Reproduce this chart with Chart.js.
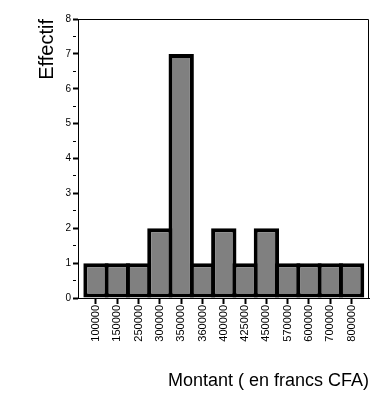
<!DOCTYPE html>
<html lang="fr">
  <head>
    <meta charset="UTF-8" />
    <title>Effectif par montant</title>
    <style>
      html, body {
        margin: 0;
        padding: 0;
        background: #fff;
      }
      #wrap {
        width: 390px;
        height: 398px;
      }
    </style>
    <script src="https://cdn.jsdelivr.net/npm/chart.js"></script>
  </head>
  <body>
    <div id="wrap"><canvas id="histo" width="390" height="398"></canvas></div>

    <script>
      // Montants (en francs CFA) et effectifs
      const montants = [
        "100000", "150000", "250000", "300000", "350000", "360000", "400000",
        "425000", "450000", "570000", "600000", "700000", "800000",
      ];
      const effectifs = [1, 1, 1, 2, 7, 1, 2, 1, 2, 1, 1, 1, 1];
      const yTicks = [0, 1, 2, 3, 4, 5, 6, 7, 8];

      const FONT = "'Liberation Sans', Arial, sans-serif";

      // cadre haut + droite autour de la zone du graphique
      const cadre = {
        id: "cadre",
        afterDraw(chart) {
          const { ctx, chartArea: a } = chart;
          ctx.save();
          ctx.strokeStyle = "#000";
          ctx.lineWidth = 1;
          ctx.beginPath();
          ctx.moveTo(a.left, a.top + 0.5);
          ctx.lineTo(a.right - 0.5, a.top + 0.5);
          ctx.lineTo(a.right - 0.5, a.bottom);
          ctx.stroke();
          ctx.restore();
        },
      };

      const ctx = document.getElementById("histo").getContext("2d");
      new Chart(ctx, {
        type: "bar",
        data: {
          datasets: [
            {
              data: effectifs.map((v, i) => ({ x: i, y: v })),
              backgroundColor: "#808080",
              borderColor: "#000",
              borderWidth: 4,
              borderSkipped: false,
              categoryPercentage: 1,
              barPercentage: 1.19,
            },
          ],
        },
        options: {
          responsive: false,
          animation: false,
          events: [],
          layout: { padding: { top: 19, right: 21, bottom: 0, left: 0 } },
          plugins: {
            legend: { display: false },
            tooltip: { enabled: false },
          },
          scales: {
            x: {
              type: "linear",
              offset: false,
              min: -0.845,
              max: 12.817,
              afterFit: (s) => {
                s.height = 100;
              },
              afterBuildTicks: (s) => {
                s.ticks = montants.map((m, i) => ({ value: i }));
              },
              ticks: {
                autoSkip: false,
                minRotation: 90,
                maxRotation: 90,
                padding: 1,
                color: "#000",
                font: { family: FONT, size: 11 },
                callback: (v) => montants[v],
              },
              grid: {
                offset: false,
                drawOnChartArea: false,
                drawTicks: true,
                tickLength: 6,
                tickWidth: 2,
                tickColor: "#000",
              },
              border: { display: true, color: "#000", width: 1 },
              title: {
                display: true,
                text: "Montant ( en francs CFA)",
                align: "end",
                color: "#000",
                font: { family: FONT, size: 18 },
                padding: { top: 0, bottom: 6 },
              },
            },
            y: {
              min: 0,
              max: 8,
              afterFit: (s) => {
                s.width = 78;
              },
              afterBuildTicks: (s) => {
                const t = [];
                yTicks.forEach((v) => {
                  t.push({ value: v });
                  if (v < 8) t.push({ value: v + 0.5 });
                });
                s.ticks = t;
              },
              ticks: {
                autoSkip: false,
                padding: 2,
                color: "#000",
                font: { family: FONT, size: 10 },
                callback: (v) => (v % 1 ? "" : v),
              },
              grid: {
                drawOnChartArea: false,
                drawTicks: true,
                tickLength: 5,
                tickWidth: (c) => (c.tick && c.tick.value % 1 ? 1 : 2),
                tickBorderDash: (c) => (c.tick && c.tick.value % 1 ? [3, 10] : []),
                tickColor: "#000",
              },
              border: { display: true, color: "#000", width: 1 },
              title: {
                display: true,
                text: "Effectif",
                align: "end",
                color: "#000",
                font: { family: FONT, size: 20 },
                padding: { top: 35, bottom: 0 },
              },
            },
          },
        },
        plugins: [cadre],
      });
    </script>
  </body>
</html>
